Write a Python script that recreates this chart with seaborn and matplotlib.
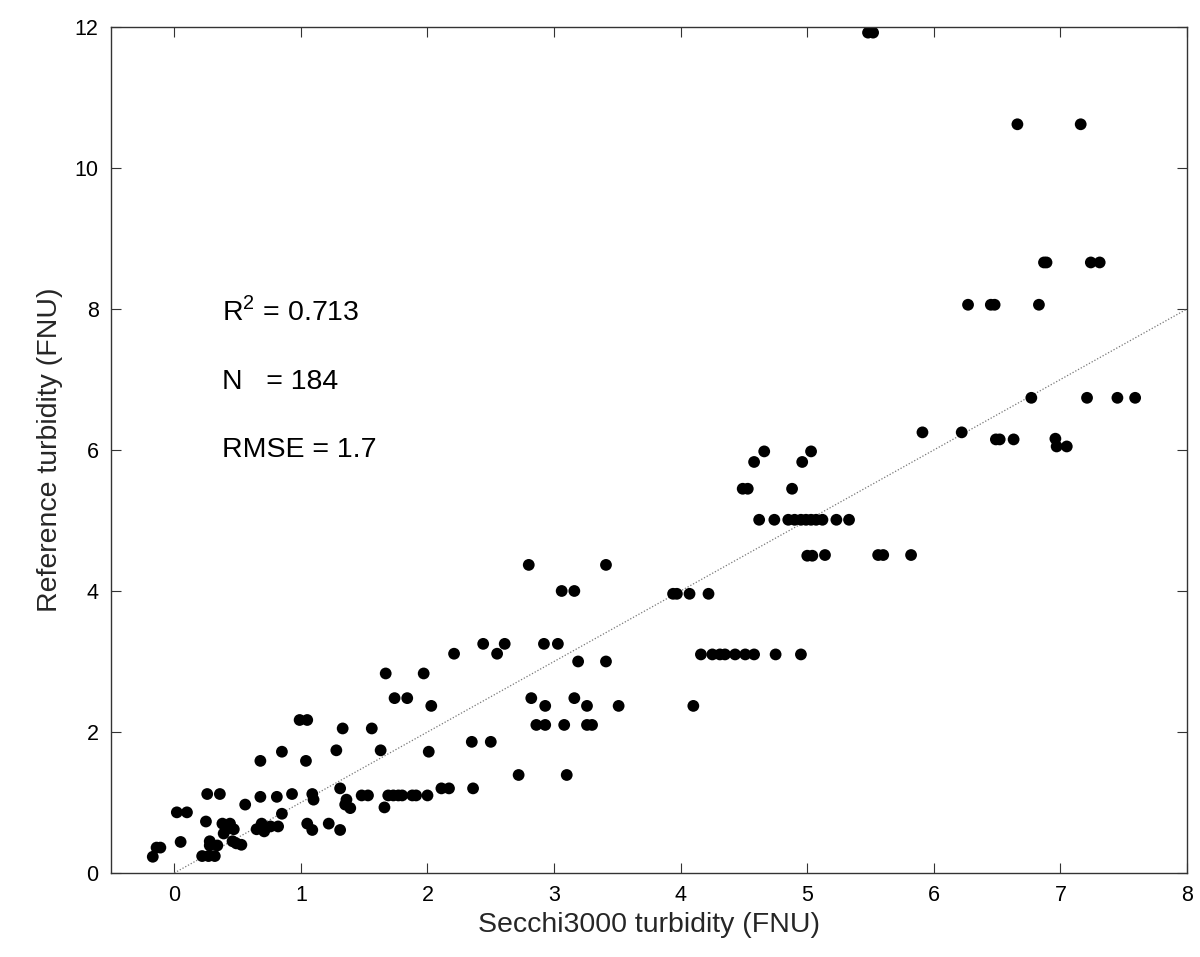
import matplotlib
matplotlib.use("Agg")
import matplotlib.pyplot as plt
import seaborn as sns
import pandas as pd

# Secchi3000 turbidity (FNU)
secchi = [
    -0.17, -0.14, -0.11, 0.02, 0.10, 0.05,
    0.22, 0.27, 0.32, 0.28, 0.28, 0.34,
    0.25, 0.26, 0.36,
    0.38, 0.44, 0.42, 0.47, 0.39,
    0.46, 0.49, 0.53,
    0.56,
    0.65, 0.69, 0.71, 0.76, 0.82,
    0.68, 0.68, 0.81, 0.85, 0.85, 0.93,
    0.99, 1.05, 1.04, 1.09, 1.10, 1.05, 1.09,
    1.22, 1.28, 1.31, 1.31, 1.33,
    1.36, 1.35, 1.39,
    1.48, 1.53, 1.56, 1.63, 1.66, 1.67, 1.69, 1.73, 1.74, 1.77, 1.80, 1.84,
    1.88, 1.91, 1.97, 2.00, 2.01, 2.03,
    2.11, 2.17, 2.21, 2.35, 2.36, 2.44, 2.50, 2.55, 2.61, 2.72, 2.80, 2.82,
    2.86, 2.92, 2.93, 2.93, 3.03, 3.06, 3.08, 3.10, 3.16, 3.16, 3.19, 3.26,
    3.26, 3.30, 3.41, 3.41, 3.51,
    3.94, 3.97, 4.07, 4.10, 4.16, 4.22, 4.25, 4.31, 4.35, 4.43, 4.49, 4.51,
    4.53, 4.58, 4.58, 4.62, 4.66, 4.74, 4.75, 4.85, 4.88, 4.90, 4.95, 4.95,
    4.96, 4.99, 5.00, 5.03, 5.03, 5.04, 5.07, 5.12, 5.14, 5.23, 5.33, 5.48,
    5.52, 5.56, 5.60, 5.82, 5.91, 6.22, 6.27, 6.45, 6.48, 6.49, 6.52, 6.63,
    6.66, 6.77, 6.83, 6.87, 6.89, 6.96, 6.97, 7.05, 7.16, 7.21, 7.24, 7.31,
    7.45, 7.59,
]

# Reference turbidity (FNU)
reference = [
    0.23, 0.36, 0.36, 0.86, 0.86, 0.44,
    0.24, 0.24, 0.24, 0.45, 0.39, 0.39,
    0.73, 1.12, 1.12,
    0.70, 0.70, 0.63, 0.62, 0.56,
    0.45, 0.42, 0.40,
    0.97,
    0.62, 0.70, 0.59, 0.66, 0.66,
    1.59, 1.08, 1.08, 1.72, 0.84, 1.12,
    2.17, 2.17, 1.59, 1.12, 1.04, 0.70, 0.61,
    0.70, 1.74, 1.20, 0.61, 2.05,
    1.04, 0.97, 0.92,
    1.10, 1.10, 2.05, 1.74, 0.93, 2.83, 1.10, 1.10, 2.48, 1.10, 1.10, 2.48,
    1.10, 1.10, 2.83, 1.10, 1.72, 2.37,
    1.20, 1.20, 3.11, 1.86, 1.20, 3.25, 1.86, 3.11, 3.25, 1.39, 4.37, 2.48,
    2.10, 3.25, 2.37, 2.10, 3.25, 4.00, 2.10, 1.39, 4.00, 2.48, 3.00, 2.37,
    2.10, 2.10, 4.37, 3.00, 2.37,
    3.96, 3.96, 3.96, 2.37, 3.10, 3.96, 3.10, 3.10, 3.10, 3.10, 5.45, 3.10,
    5.45, 5.83, 3.10, 5.01, 5.98, 5.01, 3.10, 5.01, 5.45, 5.01, 5.01, 3.10,
    5.83, 5.01, 4.50, 5.98, 5.01, 4.50, 5.01, 5.01, 4.51, 5.01, 5.01, 11.92,
    11.92, 4.51, 4.51, 4.51, 6.25, 6.25, 8.06, 8.06, 8.06, 6.15, 6.15, 6.15,
    10.62, 6.74, 8.06, 8.66, 8.66, 6.16, 6.05, 6.05, 10.62, 6.74, 8.66, 8.66,
    6.74, 6.74,
]

line_x = [0, 8]
line_y = [0, 8]

x_ticks = [0, 1, 2, 3, 4, 5, 6, 7, 8]
y_ticks = [0, 2, 4, 6, 8, 10, 12]

stats_text = [r"R$^2$ = 0.713", "N   = 184", "RMSE = 1.7"]
stats_y = [7.96, 6.96, 6.0]

sns.set_theme(style="white")
plt.rcParams["font.family"] = ["Liberation Sans", "DejaVu Sans"]
plt.rcParams["mathtext.fontset"] = "custom"
plt.rcParams["mathtext.rm"] = "Liberation Sans"

df = pd.DataFrame({"secchi": secchi, "reference": reference})

fig = plt.figure(figsize=(12, 9.57), dpi=100)
ax = fig.add_axes([0.0925, 0.0878, 0.8967, 0.884])

ax.plot(line_x, line_y, linestyle=(0, (1, 1.5)), color="#777777", linewidth=0.9, zorder=1)
sns.scatterplot(data=df, x="secchi", y="reference", ax=ax, color="black",
                s=72, edgecolor="none", linewidth=0, zorder=2)

ax.set_xlim(-0.5, 8)
ax.set_ylim(0, 12)
ax.set_xticks(x_ticks)
ax.set_yticks(y_ticks)
ax.tick_params(direction="in", length=7, width=0.8, colors="#333333",
               labelcolor="black", labelsize=15.5, top=True, right=True,
               bottom=True, left=True, pad=9)
for sp in ax.spines.values():
    sp.set_visible(True)
    sp.set_color("#333333")
    sp.set_linewidth(1.0)

ax.set_xlabel("Secchi3000 turbidity (FNU)", fontsize=20.5, labelpad=4)
ax.set_ylabel("Reference turbidity (FNU)", fontsize=20.5, labelpad=8)

for t, yy in zip(stats_text, stats_y):
    ax.text(0.38, yy, t, fontsize=20.5, ha="left", va="center", color="black")

fig.savefig("out.png", dpi=100)
